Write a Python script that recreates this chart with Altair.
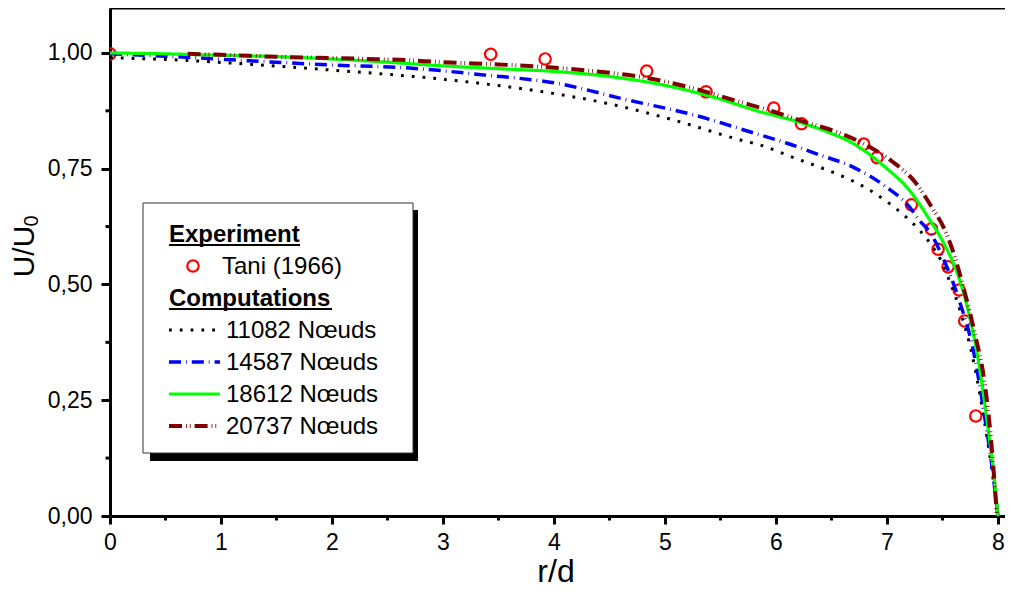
import altair as alt
import pandas as pd

# ---------------- data ----------------
tani_x = [0.0, 3.43, 3.92, 4.835, 5.37, 5.98, 6.23, 6.79, 6.91, 7.22, 7.40, 7.46, 7.55, 7.65, 7.70, 7.80]
tani_y = [0.998, 0.997, 0.987, 0.961, 0.916, 0.881, 0.847, 0.803, 0.774, 0.672, 0.620, 0.576, 0.538, 0.488, 0.421, 0.216]

n11082_x = [0, 0.1, 0.5, 1.1, 1.99, 2.69, 3.24, 3.9, 4.46, 5.08, 5.68, 5.86, 6.17, 6.44, 6.66, 6.85, 7.02, 7.17, 7.29, 7.40, 7.49, 7.57, 7.65, 7.79, 7.88, 7.95, 8.0]
n11082_y = [0.99, 0.989, 0.986, 0.978, 0.963, 0.950, 0.937, 0.916, 0.892, 0.855, 0.812, 0.801, 0.773, 0.749, 0.727, 0.703, 0.675, 0.646, 0.618, 0.585, 0.55, 0.503, 0.45, 0.322, 0.201, 0.09, 0.0]

n14587_x = [0, 0.5, 1.1, 1.99, 2.65, 3.39, 4.01, 4.67, 5.26, 5.80, 6.10, 6.39, 6.69, 6.99, 7.20, 7.29, 7.40, 7.49, 7.64, 7.79, 7.88, 7.95, 8.0]
n14587_y = [0.998, 0.993, 0.985, 0.974, 0.968, 0.952, 0.935, 0.898, 0.866, 0.827, 0.805, 0.780, 0.754, 0.711, 0.668, 0.639, 0.608, 0.565, 0.473, 0.343, 0.214, 0.10, 0.0]

n18612_x = [0, 0.5, 1, 1.5, 2, 2.5, 3, 3.5, 4, 4.5, 5, 5.5, 5.8, 6.24, 6.5, 6.69, 6.99, 7.2, 7.37, 7.52, 7.64, 7.73, 7.82, 7.91, 7.96, 8.0]
n18612_y = [1.0, 0.998, 0.995, 0.992, 0.987, 0.980, 0.972, 0.966, 0.960, 0.949, 0.930, 0.900, 0.877, 0.848, 0.826, 0.805, 0.752, 0.704, 0.645, 0.585, 0.520, 0.445, 0.340, 0.190, 0.095, 0.0]

n20737_x = [0.7, 1.0, 1.58, 2.0, 2.32, 2.61, 3.0, 3.5, 3.77, 4.3, 4.79, 5.2, 5.65, 5.98, 6.27, 6.54, 6.78, 7.05, 7.26, 7.40, 7.52, 7.61, 7.67, 7.79, 7.88, 7.94, 7.99]
n20737_y = [0.998, 0.996, 0.991, 0.989, 0.987, 0.985, 0.980, 0.975, 0.972, 0.962, 0.948, 0.927, 0.896, 0.873, 0.850, 0.830, 0.805, 0.765, 0.719, 0.668, 0.618, 0.560, 0.51, 0.395, 0.287, 0.158, 0.0]

series_labels = ["11082 Nœuds", "14587 Nœuds", "18612 Nœuds", "20737 Nœuds"]
series_x = [n11082_x, n14587_x, n18612_x, n20737_x]
series_y = [n11082_y, n14587_y, n18612_y, n20737_y]
series_colors = ["#000000", "#0000ff", "#00ff00", "#800000"]
series_dash = [[2.8, 8], [12, 5, 0.8, 5], [1, 0], [13, 4, 0.8, 3, 0.8, 4]]
series_width = [3, 3.5, 3.2, 4]

x_ticks = [0, 1, 2, 3, 4, 5, 6, 7, 8]
x_minor = [0.5, 1.5, 2.5, 3.5, 4.5, 5.5, 6.5, 7.5]
y_ticks = [0, 0.25, 0.5, 0.75, 1.0]
y_minor = [0.125, 0.375, 0.625, 0.875]

# ---------------- layout ----------------
W, H = 895, 508
XMAX, YMAX = 8.063, 1.097
FONT = "Liberation Sans"

xs = alt.Scale(domain=[0, XMAX], nice=False, zero=False)
ys = alt.Scale(domain=[0, YMAX], nice=False, zero=False)

xaxis = alt.Axis(values=x_ticks, format="d", tickSize=8, tickWidth=3, domainWidth=3,
                 domainColor="black", tickColor="black", labelFontSize=23, labelFont=FONT,
                 labelColor="black", labelPadding=7, grid=False, title=None, labelFlush=False)
yaxis = alt.Axis(values=y_ticks, labelExpr="replace(format(datum.value, '.2f'), '.', ',')",
                 tickSize=9, tickWidth=3, domainWidth=3, domainColor="black", tickColor="black",
                 labelFontSize=23, labelFont=FONT, labelColor="black", labelPadding=9,
                 grid=False, title=None, labelFlush=False)

X = alt.X("x:Q", scale=xs, axis=xaxis)
Y = alt.Y("y:Q", scale=ys, axis=yaxis)

dummy = pd.DataFrame({"d": [0]})
layers = []

# experiment circles
tani_df = pd.DataFrame({"x": tani_x, "y": tani_y})
layers.append(
    alt.Chart(tani_df).mark_point(shape="circle", filled=False, color="#ff0000", opacity=1,
                                  strokeWidth=2.2, size=130, clip=True).encode(x=X, y=Y)
)

for lab, sx, sy, c, d, w in zip(series_labels, series_x, series_y, series_colors, series_dash, series_width):
    df = pd.DataFrame({"x": sx, "y": sy, "o": list(range(len(sx)))})
    layers.append(
        alt.Chart(df).mark_line(color=c, strokeDash=d, strokeWidth=w, clip=True,
                                interpolate="monotone").encode(x=X, y=Y, order="o:Q")
    )

# minor ticks
layers.append(
    alt.Chart(pd.DataFrame({"x": x_minor})).mark_rule(color="black", strokeWidth=3).encode(
        x=X, y=alt.value(H), y2=alt.value(H + 4.5)
    )
)
layers.append(
    alt.Chart(pd.DataFrame({"y": y_minor})).mark_rule(color="black", strokeWidth=3).encode(
        y=Y, x=alt.value(0), x2=alt.value(-4.5)
    )
)

# top frame
layers.append(
    alt.Chart(dummy).mark_rule(color="black", strokeWidth=3).encode(
        x=alt.value(0), x2=alt.value(W), y=alt.value(0)
    )
)

# axis titles
layers.append(
    alt.Chart(dummy).mark_text(text="r/d", font=FONT, fontSize=32, align="center",
                               baseline="alphabetic", color="black").encode(
        x=alt.value(446), y=alt.value(574)
    )
)
layers.append(
    alt.Chart(dummy).mark_text(text="U/U", font=FONT, fontSize=30, align="center",
                               baseline="alphabetic", angle=270, color="black").encode(
        x=alt.value(-76), y=alt.value(243.5)
    )
)
layers.append(
    alt.Chart(dummy).mark_text(text="0", font=FONT, fontSize=20, align="center",
                               baseline="alphabetic", angle=270, color="black").encode(
        x=alt.value(-72), y=alt.value(213)
    )
)

# legend box + shadow
layers.append(
    alt.Chart(dummy).mark_rect(color="black").encode(
        x=alt.value(40), x2=alt.value(308), y=alt.value(202), y2=alt.value(453)
    )
)
layers.append(
    alt.Chart(dummy).mark_rect(fill="white", stroke="#333333", strokeWidth=1).encode(
        x=alt.value(33), x2=alt.value(303), y=alt.value(195), y2=alt.value(445)
    )
)

# legend headings
for txt, base, uw in [("Experiment", 234, 131), ("Computations", 298, 163)]:
    layers.append(
        alt.Chart(dummy).mark_text(text=txt, font=FONT, fontSize=24, fontWeight="bold",
                                   align="left", baseline="alphabetic", color="black").encode(
            x=alt.value(59), y=alt.value(base)
        )
    )
    layers.append(
        alt.Chart(dummy).mark_rule(color="black", strokeWidth=2).encode(
            x=alt.value(59), x2=alt.value(59 + uw), y=alt.value(base + 3)
        )
    )

# legend: Tani
layers.append(
    alt.Chart(dummy).mark_point(shape="circle", filled=False, color="#ff0000", opacity=1,
                                strokeWidth=2.2, size=130).encode(
        x=alt.value(83), y=alt.value(258)
    )
)
layers.append(
    alt.Chart(dummy).mark_text(text="Tani (1966)", font=FONT, fontSize=24, align="left",
                               baseline="alphabetic", color="black").encode(
        x=alt.value(112), y=alt.value(266)
    )
)

# legend: computations
for i, (lab, c, d, w) in enumerate(zip(series_labels, series_colors, series_dash, series_width)):
    ly = 322 + 32 * i
    layers.append(
        alt.Chart(dummy).mark_rule(color=c, strokeDash=d, strokeWidth=w).encode(
            x=alt.value(59), x2=alt.value(110), y=alt.value(ly)
        )
    )
    layers.append(
        alt.Chart(dummy).mark_text(text=lab, font=FONT, fontSize=24, align="left",
                                   baseline="alphabetic", color="black").encode(
            x=alt.value(116), y=alt.value(ly + 8)
        )
    )

chart = alt.layer(*layers).properties(
    width=W, height=H, autosize="none",
    padding={"left": 102, "top": 0, "right": 0, "bottom": 74},
).configure_view(strokeWidth=0).configure(background="white")

chart.save("out.html", embed_options={"renderer": "svg", "actions": False})
